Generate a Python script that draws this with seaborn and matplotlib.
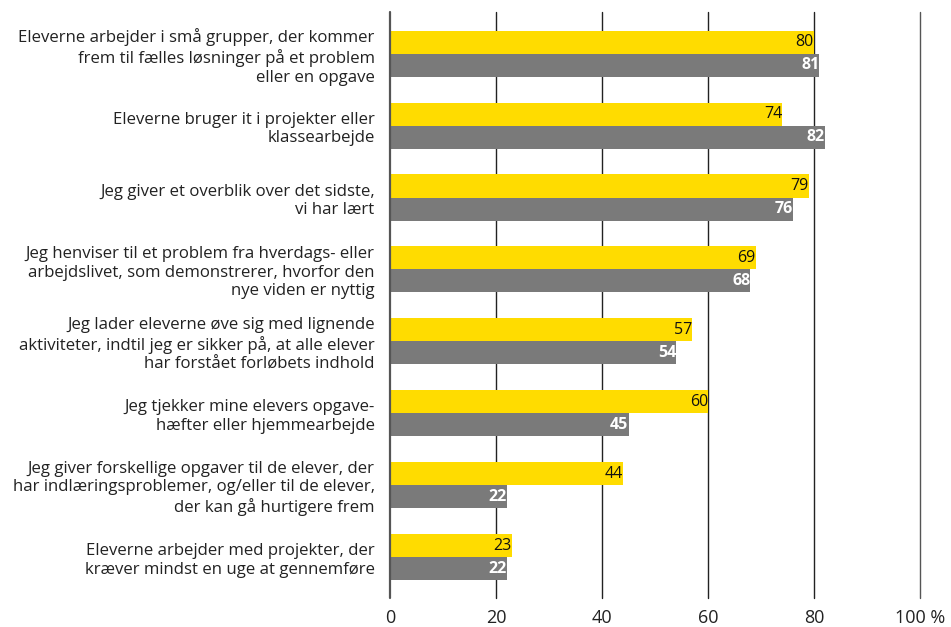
import matplotlib
matplotlib.use("Agg")
import matplotlib.pyplot as plt
import matplotlib.transforms as mtrans
import seaborn as sns
import pandas as pd

categories = [
    "Eleverne arbejder i små grupper, der kommer\nfrem til fælles løsninger på et problem\neller en opgave",
    "Eleverne bruger it i projekter eller\nklassearbejde",
    "Jeg giver et overblik over det sidste,\nvi har lært",
    "Jeg henviser til et problem fra hverdags- eller\narbejdslivet, som demonstrerer, hvorfor den\nnye viden er nyttig",
    "Jeg lader eleverne øve sig med lignende\naktiviteter, indtil jeg er sikker på, at alle elever\nhar forstået forløbets indhold",
    "Jeg tjekker mine elevers opgave-\nhæfter eller hjemmearbejde",
    "Jeg giver forskellige opgaver til de elever, der\nhar indlæringsproblemer, og/eller til de elever,\nder kan gå hurtigere frem",
    "Eleverne arbejder med projekter, der\nkræver mindst en uge at gennemføre",
]
series_names = ["A", "B"]
values_a = [80, 74, 79, 69, 57, 60, 44, 23]
values_b = [81, 82, 76, 68, 54, 45, 22, 22]
xticks = [0, 20, 40, 60, 80, 100]
xticklabels = ["0", "20", "40", "60", "80", "100 %"]

df = pd.DataFrame({
    "cat": categories * 2,
    "series": [series_names[0]] * len(categories) + [series_names[1]] * len(categories),
    "value": values_a + values_b,
})

sns.set_theme(style="white")
plt.rcParams["font.family"] = ["Open Sans", "DejaVu Sans"]

fig = plt.figure(figsize=(9.51, 6.27), dpi=100)
ax = fig.add_axes([390 / 951, 1 - 598 / 627, 530 / 951, 586 / 627])

sns.barplot(data=df, y="cat", x="value", hue="series", orient="h",
            palette=["#FFDC00", "#7A7A7A"], width=0.64, saturation=1,
            dodge=True, ax=ax, legend=False, zorder=2)

for c in ax.containers:
    for patch in c:
        patch.set_linewidth(0)

shift = mtrans.ScaledTranslation(-8 / 100, 0, fig.dpi_scale_trans)
for i, cont in enumerate(ax.containers):
    vals = values_a if i == 0 else values_b
    texts = ax.bar_label(cont, labels=[str(v) for v in vals], padding=0,
                         label_type="edge", fontsize=11.5,
                         color="#111111" if i == 0 else "white",
                         fontweight="medium" if i == 0 else "bold")
    for t in texts:
        t.set_ha("right")
        t.set_transform(t.get_transform() + shift)

for x in xticks:
    ax.axvline(x, color="#555555" if x in (0, 100) else "#222222",
               lw=1.6 if x == 0 else 1.0, zorder=3 if x == 0 else 1,
               clip_on=False)

ax.set_xlim(0, 100)
ax.set_ylim(7.57, -0.58)
ax.set_xticks(xticks)
ax.set_xticklabels(xticklabels, fontsize=13, color="#222222")
ax.tick_params(axis="x", length=0, pad=8)
ax.tick_params(axis="y", length=0, pad=11, labelsize=12.1, labelcolor="#222222")
for lbl in ax.get_yticklabels():
    lbl.set_ha("right")
    lbl.set_multialignment("right")
    lbl.set_linespacing(1.22)
ax.set_xlabel("")
ax.set_ylabel("")
for s in ax.spines.values():
    s.set_visible(False)
ax.grid(False)

fig.savefig("out.png", dpi=100)
